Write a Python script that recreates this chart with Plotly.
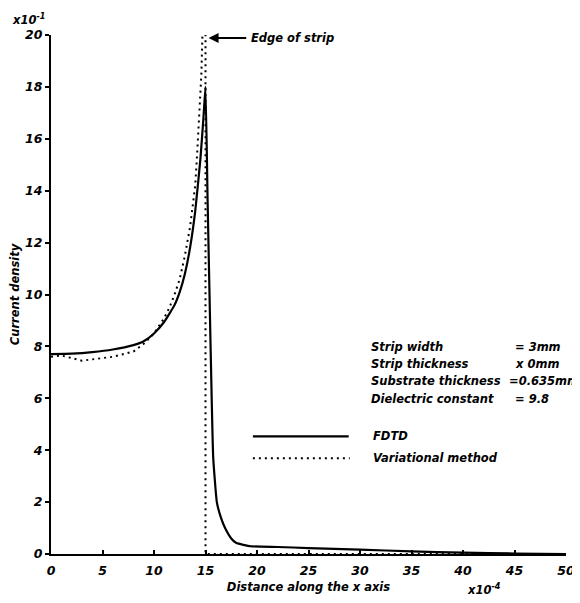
import plotly.graph_objects as go

# FDTD result
fdtd_x = [0, 2, 4, 6, 8, 9, 10, 11, 12, 12.5, 13, 13.5, 14, 14.5, 14.8, 15.0,
          15.2, 15.4, 15.6, 15.75, 16.1, 16.5, 16.9, 17.5, 18.0, 19.4, 22, 25, 30, 35, 40, 45, 50]
fdtd_y = [7.7, 7.72, 7.78, 7.88, 8.05, 8.2, 8.5, 8.95, 9.6, 10.1, 10.8, 11.8, 13.2, 15.2, 16.8, 18.0,
          13.7, 9.8, 6.0, 3.7, 2.0, 1.4, 1.0, 0.6, 0.42, 0.3, 0.27, 0.23, 0.17, 0.1, 0.05, 0.02, 0.0]

# Variational method
var_x = [0, 1, 2, 3, 4, 5, 6, 7, 8, 9, 10, 10.5, 11, 11.5, 12, 12.5, 13, 13.5, 14,
         14.2, 14.4, 14.6, 14.7, 15.0, 15.0, 50]
var_y = [7.6, 7.65, 7.55, 7.45, 7.5, 7.55, 7.6, 7.7, 7.8, 8.1, 8.5, 8.8, 9.1, 9.5, 10.0, 10.6, 11.5, 12.6, 14.2,
         15.5, 17.0, 18.5, 20.0, 20.0, 0.0, 0.0]

x_ticks = [0, 5, 10, 15, 20, 25, 30, 35, 40, 45, 50]
y_ticks = [0, 2, 4, 6, 8, 10, 12, 14, 16, 18, 20]

params = ["Strip width", "Strip thickness", "Substrate thickness", "Dielectric constant"]
param_vals = ["= 3mm", "x 0mm", "=0.635mm", "= 9.8"]

FONT = "DejaVu Sans"
TXT = dict(family=FONT, size=11.5, color="black", style="italic", weight="bold")
TICKF = dict(family=FONT, size=12.5, color="black", style="italic", weight="bold")

fig = go.Figure()
fig.add_trace(go.Scatter(x=var_x, y=var_y, mode="lines",
                         line=dict(color="black", width=2, dash="2px,4px"),
                         showlegend=False, cliponaxis=False))
fig.add_trace(go.Scatter(x=fdtd_x, y=fdtd_y, mode="lines",
                         line=dict(color="black", width=2.2, shape="spline", smoothing=0.4),
                         showlegend=False, cliponaxis=False))

axis_common = dict(showgrid=False, zeroline=False, showline=True, linecolor="black", linewidth=2,
                   ticklen=4, tickwidth=2, tickcolor="black", automargin=False, tickfont=TICKF)

fig.update_xaxes(range=[0, 50], tickvals=x_ticks, ticktext=[str(v) for v in x_ticks],
                 ticks="inside", ticklabelstandoff=4,
                 title=dict(text="Distance along the x axis", font=TXT, standoff=6),
                 **axis_common)
fig.update_yaxes(range=[0, 20], tickvals=y_ticks, ticktext=[str(v) for v in y_ticks],
                 ticks="outside",
                 title=dict(text="Current density", font=TXT, standoff=8),
                 **axis_common)

ann = []
# exponent labels
ann.append(dict(x=0, y=1.0, xref="paper", yref="paper", xanchor="right", yanchor="bottom",
                xshift=-4, yshift=6, text="x10<sup>-1</sup>", showarrow=False, font=TXT))
ann.append(dict(x=42.0, y=0, xref="x", yref="y", xanchor="center", yanchor="top",
                yshift=-26, text="x10<sup>-4</sup>", showarrow=False, font=TXT))
# edge of strip
ann.append(dict(x=15.3, y=19.88, xref="x", yref="y", ax=19.1, ay=19.88, axref="x", ayref="y",
                showarrow=True, arrowhead=2, arrowsize=1, arrowwidth=2, arrowcolor="black", text=""))
ann.append(dict(x=19.2, y=19.88, xref="x", yref="y", xanchor="left", yanchor="middle",
                text="Edge of strip", showarrow=False, font=TXT))
# parameters
for i, (p, v) in enumerate(zip(params, param_vals)):
    yy = 7.98 - i * 0.665
    ann.append(dict(x=30.9, y=yy, xref="x", yref="y", xanchor="left", yanchor="middle",
                    text=p, showarrow=False, font=TXT))
    ann.append(dict(x=44.9 if i != 2 else 44.3, y=yy, xref="x", yref="y", xanchor="left", yanchor="middle",
                    text=v, showarrow=False, font=TXT))
# legend
ann.append(dict(x=31.1, y=4.53, xref="x", yref="y", xanchor="left", yanchor="middle",
                text="FDTD", showarrow=False, font=TXT))
ann.append(dict(x=31.1, y=3.69, xref="x", yref="y", xanchor="left", yanchor="middle",
                text="Variational method", showarrow=False, font=TXT))

shapes = [
    dict(type="line", xref="x", yref="y", x0=19.6, x1=28.9, y0=4.53, y1=4.53,
         line=dict(color="black", width=2.2)),
    dict(type="line", xref="x", yref="y", x0=19.6, x1=29.0, y0=3.69, y1=3.69,
         line=dict(color="black", width=2, dash="2px,4px")),
]

# page body has an 8px default margin, so the figure is sized to fit the window
fig.update_layout(width=572, height=595, margin=dict(l=43, r=14, t=27, b=49, autoexpand=False),
                  plot_bgcolor="white", paper_bgcolor="white",
                  annotations=ann, shapes=shapes, showlegend=False)

fig.write_html("out.html")
